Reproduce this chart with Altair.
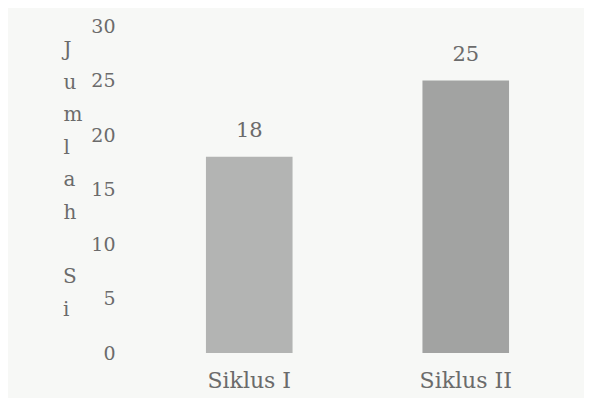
import altair as alt
import pandas as pd

categories = ["Siklus I", "Siklus II"]
values = [18, 25]
bar_colors = ["#b3b4b3", "#a2a3a2"]
y_ticks = [0, 5, 10, 15, 20, 25, 30]
y_title_top = ["J", "u", "m", "l", "a", "h"]
y_title_bottom = ["S", "i"]

df = pd.DataFrame({"cat": categories, "val": values, "col": bar_colors})
one = pd.DataFrame({"k": [0]})

FONT = "DejaVu Serif"
GREY = "#6b6b6b"
LH = 32.5

x = alt.X("cat:N", sort=categories, title=None,
          scale=alt.Scale(paddingInner=0.6, paddingOuter=0.3),
          axis=alt.Axis(labelAngle=0, labelFont=FONT, labelFontSize=22,
                        labelColor=GREY, domain=False, ticks=False,
                        labelPadding=17, grid=False))
y = alt.Y("val:Q", scale=alt.Scale(domain=[0, 30], nice=False),
          axis=alt.Axis(values=y_ticks, title=y_title_top, titleAngle=0,
                        titleFont=FONT, titleFontSize=20, titleFontWeight="normal",
                        titleColor=GREY, titleLineHeight=LH,
                        titleAlign="left", titleBaseline="alphabetic",
                        titleX=-78, titleY=29.5,
                        labelFont=FONT, labelFontSize=19, labelColor=GREY,
                        labelPadding=26, domain=False, ticks=False, grid=False))

bars = alt.Chart(df).mark_bar().encode(
    x=x, y=y, color=alt.Color("col:N", scale=None)
)
labels = alt.Chart(df).mark_text(
    baseline="alphabetic", dy=-20, font=FONT, fontSize=21, color=GREY
).encode(x=alt.X("cat:N", sort=categories), y="val:Q", text="val:Q")

title_rest = alt.Chart(one).mark_text(
    text=y_title_bottom, align="left", baseline="alphabetic",
    font=FONT, fontSize=20, color=GREY, lineHeight=LH
).encode(x=alt.value(-78), y=alt.value(29.5 + 7 * LH))

chart = (bars + labels + title_rest).properties(
    width=433, height=327,
    autosize=alt.AutoSizeParams(type="none"),
    padding={"left": 133, "top": 18, "right": 10, "bottom": 45},
    background="#f7f8f6",
).configure_view(stroke=None)

chart.save("out.html", embed_options={"renderer": "svg", "actions": False})
